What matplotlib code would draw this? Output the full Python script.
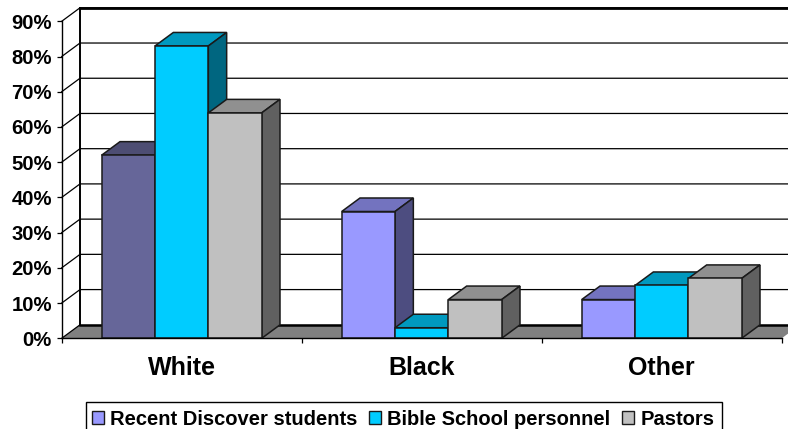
import matplotlib
matplotlib.use("Agg")
import matplotlib.pyplot as plt
from matplotlib.patches import Polygon, Patch, Rectangle
from matplotlib.ticker import FuncFormatter

categories = ["White", "Black", "Other"]
series_names = ["Recent Discover students", "Bible School personnel", "Pastors"]
recent = [52, 36, 11]
bible = [83, 3, 15]
pastors = [64, 11, 17]
yticks = [0, 10, 20, 30, 40, 50, 60, 70, 80, 90]

plt.rcParams["font.family"] = ["Liberation Sans", "DejaVu Sans"]
plt.rcParams["font.weight"] = "bold"

W, H = 788, 429
fig = plt.figure(figsize=(W / 100, H / 100), dpi=100)
ax = fig.add_axes([61.7 / W, (H - 338.3) / H, 720 / W, 317 / H])
ax.set_xlim(0, 3)
ax.set_ylim(0, 90)
ax.patch.set_visible(False)

# 3-D depth in data units
DX = 18.3 / 240
DY = 13.5 / (317 / 90)
BAR_W = 1 / 4.5
GAP = BAR_W * 0.75
LW = 1.1

# floor
ax.add_patch(Polygon([(0, 0), (3, 0), (3 + DX, DY), (DX, DY)], closed=True, fc="#808080",
                     ec="none", clip_on=False, zorder=1))
ax.plot([DX, 3 + DX], [DY, DY], color="black", lw=1.8, clip_on=False, zorder=1.5)

# walls and gridlines
for t in yticks[1:]:
    ax.plot([0, DX, 3 + DX], [t, t + DY, t + DY], color="black", lw=0.9, clip_on=False, zorder=1.2)
ax.plot([0, DX], [0, DY], color="black", lw=0.9, clip_on=False, zorder=1.6)
ax.plot([DX, DX], [DY, 90 + DY], color="black", lw=1.4, clip_on=False, zorder=1.3)
ax.plot([DX, 3 + DX], [90 + DY, 90 + DY], color="black", lw=2.0, clip_on=False, zorder=1.3)

# (front, top, side) per bar
styles = [
    [("#666699", "#4D4D73", "#4D4D73"), ("#9999FF", "#7373BF", "#4D4D80"), ("#9999FF", "#7373BF", "#4D4D80")],
    [("#00CCFF", "#0099BF", "#006680")] * 3,
    [("#C0C0C0", "#909090", "#606060")] * 3,
]
edge = "#1a1a1a"
z = 2.0
for ci in range(len(categories)):
    for si, vals in enumerate([recent, bible, pastors]):
        v = vals[ci]
        x0 = ci + GAP + si * BAR_W
        x1 = x0 + BAR_W
        front, top, side = styles[si][ci]
        ax.add_patch(Polygon([(x0, v), (x1, v), (x1 + DX, v + DY), (x0 + DX, v + DY)], closed=True,
                             fc=top, ec=edge, lw=LW, clip_on=False, zorder=z))
        ax.add_patch(Polygon([(x1, 0), (x1 + DX, DY), (x1 + DX, v + DY), (x1, v)], closed=True,
                             fc=side, ec=edge, lw=LW, clip_on=False, zorder=z))
        ax.bar(x0, v, width=BAR_W, align="edge", color=front, edgecolor=edge, linewidth=LW,
               clip_on=False, zorder=z + 0.1)
        z += 0.2

# axes
for s in ["top", "right"]:
    ax.spines[s].set_visible(False)
for s in ["left", "bottom"]:
    ax.spines[s].set_linewidth(1.0)
    ax.spines[s].set_zorder(20)
ax.set_yticks(yticks)
ax.yaxis.set_major_formatter(FuncFormatter(lambda v, p: f"{int(v)}%"))
ax.tick_params(axis="y", length=3.6, width=0.9, pad=3.4, labelsize=14.6)
ax.set_xticks(range(len(categories) + 1))
ax.set_xticklabels([])
ax.tick_params(axis="x", which="major", length=3.6, width=0.9)
ax.set_xticks([i + 0.5 for i in range(len(categories))], minor=True)
ax.set_xticklabels(categories, minor=True)
ax.tick_params(axis="x", which="minor", length=0, pad=12.5, labelsize=18)

# legend: frame drawn separately, its lower edge runs past the image bottom
fig.add_artist(Rectangle((85.5 / W, -5 / H), (722.2 - 85.5) / W, 32.3 / H, transform=fig.transFigure,
                         fc="white", ec="black", lw=1.0))
handles = [Patch(fc=c, ec="#1a1a1a", lw=1.0) for c in ["#9999FF", "#00CCFF", "#C0C0C0"]]
leg = fig.legend(handles, series_names, ncol=3, fontsize=14.5, loc="lower left",
                 bbox_to_anchor=(85.5 / W, -6 / H), bbox_transform=fig.transFigure,
                 handlelength=0.62, handleheight=0.62, handletextpad=0.3,
                 columnspacing=0.56, borderpad=0.3, borderaxespad=0, frameon=False)

fig.savefig("out.png", dpi=100)
